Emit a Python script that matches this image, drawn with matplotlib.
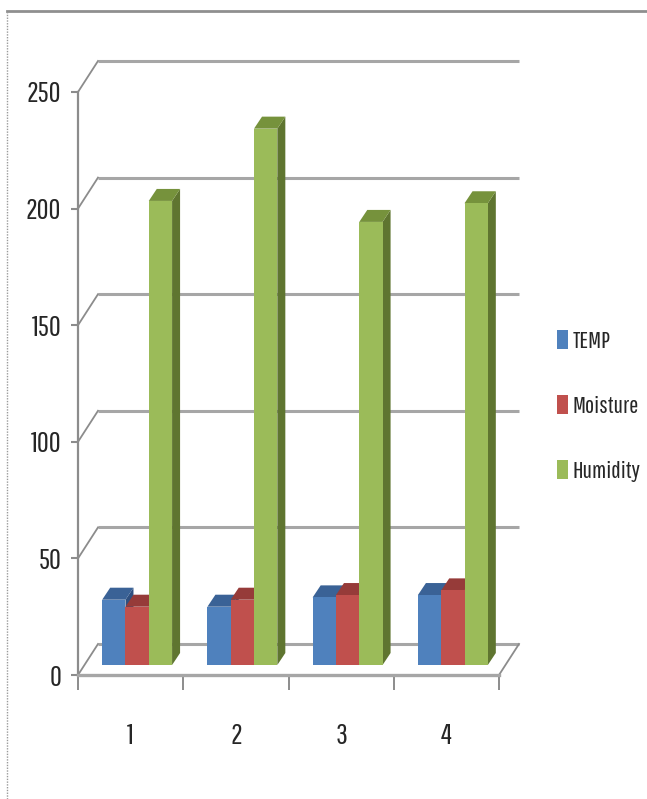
import matplotlib
matplotlib.use("Agg")
import matplotlib.pyplot as plt
from matplotlib import font_manager as fm
from matplotlib.patches import Patch
from matplotlib.lines import Line2D
from matplotlib.transforms import offset_copy

categories = ["1", "2", "3", "4"]
temp = [28, 25, 29, 30]
moisture = [25, 28, 30, 32]
humidity = [199, 230, 190, 198]
yticks = [0, 50, 100, 150, 200, 250]
series_names = ["TEMP", "Moisture", "Humidity"]
front_colors = ["#4F81BD", "#C0504D", "#9BBB59"]
top_colors = ["#3A6296", "#963B39", "#76923C"]
side_colors = ["#2F5080", "#7F3230", "#5F7530"]

names = {f.name for f in fm.fontManager.ttflist}
narrow = [n for n in ["Pathway Gothic One", "Pragati Narrow", "Liberation Sans Narrow", "Liberation Sans"]
          if n in names]
plt.rcParams["font.family"] = [narrow[0], "DejaVu Sans"]
TICK_FS = 21
LEG_FS = 17.5

W, H = 647, 799
fig = plt.figure(figsize=(W / 100, H / 100), dpi=100, facecolor="white")
ax = fig.add_axes([78 / W, (H - 675) / H, (499 - 78) / W, (675 - 92) / H])
ax.set_xlim(0, 4)
ax.set_ylim(0, 250)
ax.patch.set_alpha(0)

GRID = "#a6a6a6"
AXC = "#8c8c8c"
wall = offset_copy(ax.transData, fig=fig, x=20, y=31, units="dots")
bars_t = offset_copy(ax.transData, fig=fig, x=6.5, y=10, units="dots")

# back wall / floor lines
for v in yticks:
    ax.plot([0, 4], [v, v], transform=wall, color=GRID, lw=2.2, zorder=1,
            clip_on=False, solid_capstyle="butt")
    x0, y0 = ax.transData.transform((0, v))
    ax.add_line(Line2D([x0, x0 + 20], [y0, y0 + 31], transform=None, color=AXC, lw=1.3,
                       zorder=1, clip_on=False))
x4, y4 = ax.transData.transform((4, 0))
ax.add_line(Line2D([x4, x4 + 20], [y4, y4 + 31], transform=None, color=AXC, lw=1.3,
                   zorder=1, clip_on=False))

# 3D-looking bars
width = 23.3 / (421 / 4)
ddx = 8 / (421 / 4)
ddy = 12 / (583 / 250)
for k, vals in enumerate([temp, moisture, humidity]):
    for i, v in enumerate(vals):
        left = i + 0.5 + (k - 1.5) * width
        right = left + width
        ax.fill([right, right + ddx, right + ddx, right],
                [0, ddy, v + ddy, v], transform=bars_t,
                color=side_colors[k], lw=0, zorder=3 + k, clip_on=False)
        ax.fill([left, left + ddx, right + ddx, right],
                [v, v + ddy, v + ddy, v], transform=bars_t,
                color=top_colors[k], lw=0, zorder=3 + k, clip_on=False)
    ax.bar([i + 0.5 + (k - 1) * width for i in range(4)], vals, width=width,
           color=front_colors[k], lw=0, transform=bars_t, zorder=3 + k, clip_on=False)

# axes
for s in ("top", "right"):
    ax.spines[s].set_visible(False)
ax.spines["left"].set_color(AXC)
ax.spines["left"].set_linewidth(1.6)
ax.spines["bottom"].set_color(GRID)
ax.spines["bottom"].set_linewidth(2.4)
ax.set_yticks(yticks)
ax.set_xticks(range(5))
ax.set_xticklabels([""] * 5)
ax.tick_params(axis="y", length=5, width=1.5, color=AXC, labelsize=TICK_FS, pad=7,
               labelcolor="#262626")
ax.tick_params(axis="x", length=11, width=1.4, color=AXC)
for i, c in enumerate(categories):
    ax.annotate(c, xy=(i + 0.5, 0), xycoords="data", xytext=(0, -61),
                textcoords="offset pixels", ha="center", va="center",
                fontsize=TICK_FS, color="#262626")

# legend
handles = [Patch(facecolor=c, edgecolor="none", label=n)
           for c, n in zip(front_colors, series_names)]
fig.legend(handles=handles, loc="center left", bbox_to_anchor=(557 / W, (H - 406) / H),
           frameon=False, fontsize=LEG_FS, labelcolor="#262626",
           handlelength=0.45, handleheight=0.85, handletextpad=0.2, labelspacing=1.77,
           borderpad=0, borderaxespad=0)

# outer frame
fig.add_artist(Line2D([7 / W, 1], [(H - 11) / H] * 2, transform=fig.transFigure,
                      color="#8f8f8f", lw=2.0))
fig.add_artist(Line2D([7 / W, 7 / W], [0, (H - 11) / H], transform=fig.transFigure,
                      color="#9a9a9a", lw=1.0, ls=(0, (1, 1))))

fig.savefig("out.png", dpi=100)
